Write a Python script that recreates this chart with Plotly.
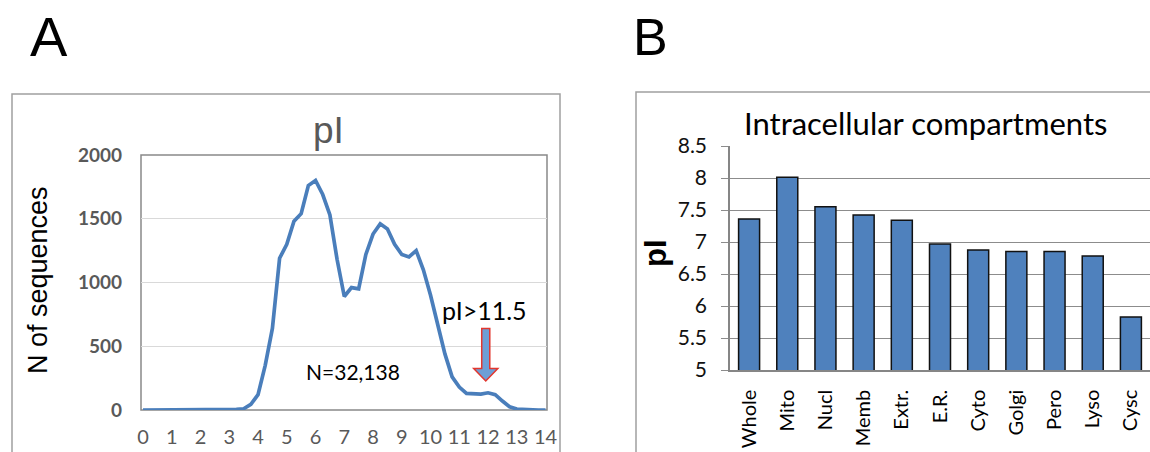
import plotly.graph_objects as go

# ---------------- data ----------------
pi_bins = [0, 0.25, 0.5, 0.75, 1, 1.25, 1.5, 1.75, 2, 2.25, 2.5, 2.75, 3, 3.25, 3.5, 3.75,
           4, 4.25, 4.5, 4.75, 5, 5.25, 5.5, 5.75, 6, 6.25, 6.5, 6.75, 7, 7.25, 7.5, 7.75,
           8, 8.25, 8.5, 8.75, 9, 9.25, 9.5, 9.75, 10, 10.25, 10.5, 10.75, 11, 11.25, 11.5,
           11.75, 12, 12.25, 12.5, 12.75, 13, 13.25, 13.5, 13.75, 14]
seq_counts = [0, 0, 0, 0, 0, 0, 0, 2, 5, 3, 2, 2, 3, 5, 10, 45,
              120, 350, 640, 1190, 1300, 1480, 1540, 1760, 1800, 1690, 1530, 1180, 890, 960, 950, 1220,
              1380, 1460, 1420, 1300, 1220, 1200, 1250, 1100, 900, 660, 440, 260, 180, 130, 125,
              125, 135, 120, 70, 25, 8, 3, 1, 0, 0]
left_xtick_vals = [0, 1, 2, 3, 4, 5, 6, 7, 8, 9, 10, 11, 12, 13, 14]
left_xtick_text = ["0", "1", "2", "3", "4", "5", "6", "7", "8", "9", "10", "11", "12", "13", "14"]
left_ytick_vals = [0, 500, 1000, 1500, 2000]
left_ytick_text = ["0", "500", "1000", "1500", "2000"]

compartments = ["Whole", "Mito", "Nucl", "Memb", "Extr.", "E.R.", "Cyto", "Golgi", "Pero", "Lyso", "Cysc"]
mean_pi = [7.36, 8.01, 7.55, 7.42, 7.34, 6.97, 6.875, 6.85, 6.85, 6.78, 5.83]
right_ytick_vals = [5, 5.5, 6, 6.5, 7, 7.5, 8, 8.5]
right_ytick_text = ["5", "5.5", "6", "6.5", "7", "7.5", "8", "8.5"]

# ---------------- layout helpers ----------------
W, H = 1150, 452
def px(x):
    return x / W
def py(y):
    return 1 - y / H

SANS = "Liberation Sans, Arial, sans-serif"
CAL = "Lato, Liberation Sans, sans-serif"

fig = go.Figure()

fig.add_trace(go.Scatter(
    x=pi_bins, y=seq_counts, mode="lines",
    line=dict(color="#4a7ebb", width=3.7),
    xaxis="x", yaxis="y", showlegend=False, hoverinfo="skip",
))

fig.add_trace(go.Bar(
    x=compartments, y=mean_pi, width=0.55,
    marker=dict(color="#4f81bd", line=dict(color="#111111", width=1.5)),
    xaxis="x2", yaxis="y2", showlegend=False, hoverinfo="skip",
))

# arrow geometry (annotation, in data coordinates of panel A)
acx, atop, aneck, atip, asw, ahw = 11.92, 640, 325, 228, 0.14, 0.42
arrow_path = (f"M {acx-asw},{atop} L {acx+asw},{atop} L {acx+asw},{aneck} L {acx+ahw},{aneck} "
              f"L {acx},{atip} L {acx-ahw},{aneck} L {acx-asw},{aneck} Z")

shapes = [
    # panel frames
    dict(type="rect", xref="paper", yref="paper", x0=px(12), x1=px(560), y0=-0.3, y1=py(94),
         line=dict(color="#a0a0a0", width=1.5), fillcolor="rgba(0,0,0,0)", layer="below"),
    dict(type="rect", xref="paper", yref="paper", x0=px(636), x1=1.3, y0=-0.3, y1=py(92),
         line=dict(color="#a0a0a0", width=1.5), fillcolor="rgba(0,0,0,0)", layer="below"),
    # plot-area border panel A
    dict(type="rect", xref="x domain", yref="y domain", x0=0, x1=1, y0=0, y1=1,
         line=dict(color="#898989", width=1.5), fillcolor="rgba(0,0,0,0)", layer="below"),
    # arrow
    dict(type="path", xref="x", yref="y", path=arrow_path,
         fillcolor="#6d9fd6", line=dict(color="#e2372f", width=1.5)),
]

def ann(text, x, y, size, family=SANS, color="#000000", angle=0, xref="paper", yref="paper"):
    return dict(text=text, x=x, y=y, xref=xref, yref=yref, showarrow=False,
                xanchor="center", yanchor="middle", textangle=angle,
                font=dict(family=family, size=size, color=color))

annotations = [
    ann("A", px(49), py(36), 56),
    ann("B", px(650), py(37), 52),
    ann("pI", px(328), py(131), 37, color="#595959"),
    ann("N of sequences", px(38), py(280), 27, angle=-90),
    ann("N=32,138", 7.3, 299, 21, family=CAL, xref="x", yref="y"),
    ann("pI>11.5", 11.89, 787, 25, family=CAL, xref="x", yref="y"),
    ann("Intracellular compartments", px(926), py(123), 31, family=CAL),
    ann("<b>pI</b>", px(655), py(253), 31, angle=-90),
]

fig.update_layout(
    template="none",
    width=W, height=H,
    margin=dict(l=0, r=0, t=0, b=0, pad=0, autoexpand=False),
    paper_bgcolor="white", plot_bgcolor="white",
    showlegend=False,
    shapes=shapes,
    annotations=annotations,
    xaxis=dict(
        domain=[px(141), px(547)], range=[-0.07, 14.05], anchor="y", automargin=False,
        tickmode="array", tickvals=left_xtick_vals, ticktext=left_xtick_text,
        showgrid=False, zeroline=False, showline=False, ticks="",
        tickfont=dict(family=CAL, size=20, color="#595959"), ticklabelstandoff=13,
        fixedrange=True,
    ),
    yaxis=dict(
        domain=[py(410), py(155)], range=[0, 2000], anchor="x", automargin=False,
        tickmode="array", tickvals=left_ytick_vals, ticktext=left_ytick_text,
        showgrid=True, gridcolor="#d9d9d9", gridwidth=1.2,
        zeroline=False, showline=False, ticks="",
        tickfont=dict(family=CAL, size=19, color="#595959", weight="bold"), ticklabelstandoff=18,
        fixedrange=True,
    ),
    xaxis2=dict(
        domain=[px(730), 1.0], range=[-0.5, 10.5], anchor="y2", type="category", automargin=False,
        tickangle=-90, showgrid=False, zeroline=False,
        showline=True, linecolor="#868686", linewidth=1.5, ticks="",
        tickfont=dict(family=CAL, size=20, color="#000000"), ticklabelstandoff=10,
        fixedrange=True,
    ),
    yaxis2=dict(
        domain=[py(370), py(146)], range=[5, 8.5], anchor="x2", automargin=False,
        tickmode="array", tickvals=right_ytick_vals, ticktext=right_ytick_text,
        showgrid=True, gridcolor="#8c8c8c", gridwidth=1.2,
        zeroline=False, showline=True, linecolor="#868686", linewidth=1.5,
        ticks="outside", ticklen=7, tickcolor="#8c8c8c", tickwidth=1.2,
        tickfont=dict(family=CAL, size=21, color="#111111"), ticklabelstandoff=10,
        fixedrange=True,
    ),
)

fig.write_html(
    "out.html",
    config={"displayModeBar": False},
    post_script="document.body.style.margin='0';document.body.style.overflow='hidden';",
)
